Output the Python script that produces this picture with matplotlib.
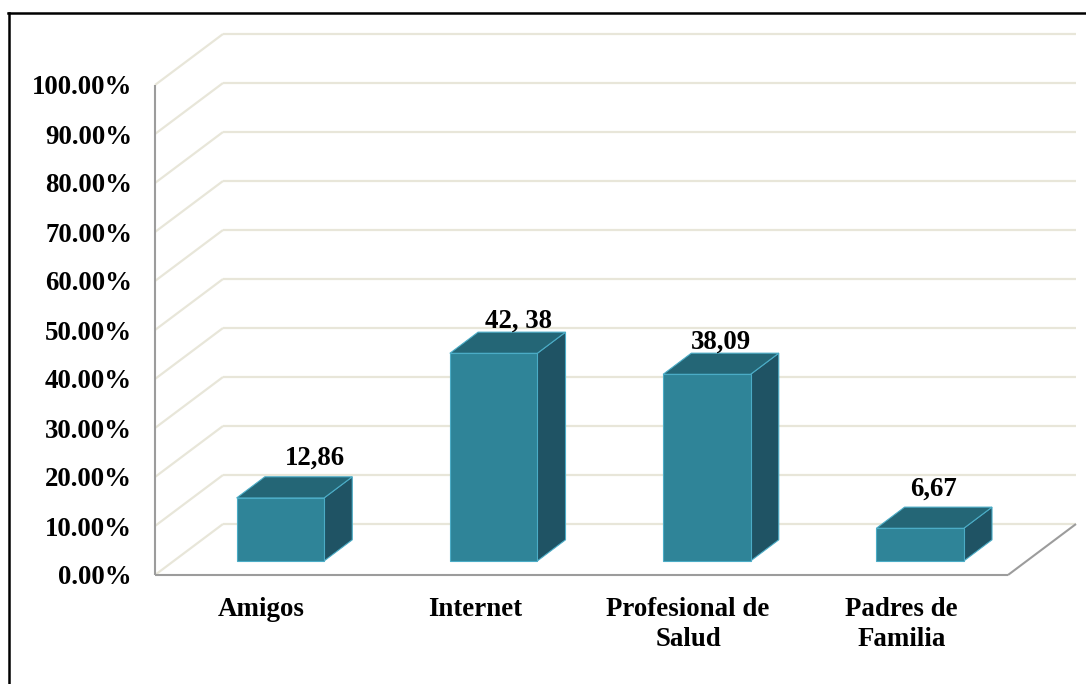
import numpy as np
import matplotlib
matplotlib.use("Agg")
import matplotlib.pyplot as plt
from matplotlib.patches import Polygon
from matplotlib.lines import Line2D
from matplotlib.transforms import IdentityTransform

# ---- data ----
categories = ["Amigos", "Internet", "Profesional de\nSalud", "Padres de\nFamilia"]
values = [12.86, 42.38, 38.09, 6.67]
value_labels = ["12,86", "42, 38", "38,09", "6,67"]
y_ticks = [0, 10, 20, 30, 40, 50, 60, 70, 80, 90, 100]
y_tick_labels = [f"{t:.2f}%" for t in y_ticks]

# ---- style ----
plt.rcParams["font.family"] = ["Liberation Serif", "DejaVu Serif"]
plt.rcParams["font.weight"] = "bold"
plt.rcParams["font.size"] = 19.4

W, H = 1086, 684
DEPTH = np.array([68.0, 51.0])      # 3-D depth vector in pixels
D0, D1 = 0.275, 0.69                # bar depth span (fraction of depth)
BAR_W = 0.41
GRID_C = "#E8E6D9"
AXIS_C = "#9C9C9C"
FRONT_C = "#2F8498"
TOP_C = "#246676"
SIDE_C = "#1F5364"
EDGE_C = "#4BACC6"
label_offsets = [(6, 19), (-3, 11), (-14, 11), (-15, 18)]

fig = plt.figure(figsize=(W / 100, H / 100), dpi=100)
ax = fig.add_axes([155 / W, 109 / H, 853 / W, 490 / H])
ax.set_xlim(-0.5, len(categories) - 0.5)
ax.set_ylim(0, 100)
ax.patch.set_visible(False)
for s in ax.spines.values():
    s.set_visible(False)
ax.set_yticks(y_ticks)
ax.set_yticklabels(y_tick_labels)
ax.set_xticks(range(len(categories)))
ax.set_xticklabels(categories, linespacing=1.3)
ax.tick_params(length=0)
ax.tick_params(axis="y", pad=16.5)
ax.tick_params(axis="x", pad=15.5)

x_lo, x_hi = ax.get_xlim()


def P(x, y, d=0.0):
    return ax.transData.transform((x, y)) + d * DEPTH


def line(p, q, color, lw, z=1):
    ax.add_line(Line2D([p[0], q[0]], [p[1], q[1]], color=color, lw=lw,
                       transform=IdentityTransform(), clip_on=False, zorder=z,
                       solid_capstyle="butt"))


# gridlines: side wall diagonals + back wall horizontals
for t in y_ticks:
    line(P(x_lo, t, 0), P(x_lo, t, 1), GRID_C, 1.6)
    line(P(x_lo, t, 1), P(x_hi, t, 1), GRID_C, 1.6)

# floor edges and vertical axis
line(P(x_lo, 0, 0), P(x_hi, 0, 0), AXIS_C, 1.5, 2)
line(P(x_hi, 0, 0), P(x_hi, 0, 1), AXIS_C, 1.5, 2)
line(P(x_lo, 0, 0), P(x_lo, 100, 0), AXIS_C, 1.5, 2)

# bars
for i, v in enumerate(values):
    l, r = i - BAR_W / 2, i + BAR_W / 2
    front = [P(l, 0, D0), P(r, 0, D0), P(r, v, D0), P(l, v, D0)]
    top = [P(l, v, D0), P(r, v, D0), P(r, v, D1), P(l, v, D1)]
    side = [P(r, 0, D0), P(r, 0, D1), P(r, v, D1), P(r, v, D0)]
    for pts, c in ((side, SIDE_C), (top, TOP_C), (front, FRONT_C)):
        ax.add_patch(Polygon(pts, closed=True, facecolor=c, edgecolor=EDGE_C,
                             lw=0.8, transform=IdentityTransform(),
                             clip_on=False, zorder=3, joinstyle="miter"))
    pos = P(i, v, D1) + np.array(label_offsets[i])
    ax.text(pos[0], pos[1], value_labels[i], transform=IdentityTransform(),
            ha="center", va="center", zorder=4, clip_on=False)

# outer frame (cropped on right and bottom)
fig.add_artist(Line2D([9 / W, 9 / W], [0, (H - 12.5) / H], color="black",
                      lw=1.8, transform=fig.transFigure))
fig.add_artist(Line2D([8.4 / W, 1], [(H - 12.5) / H, (H - 12.5) / H],
                      color="black", lw=1.8, transform=fig.transFigure))

fig.savefig("out.png", dpi=100)
